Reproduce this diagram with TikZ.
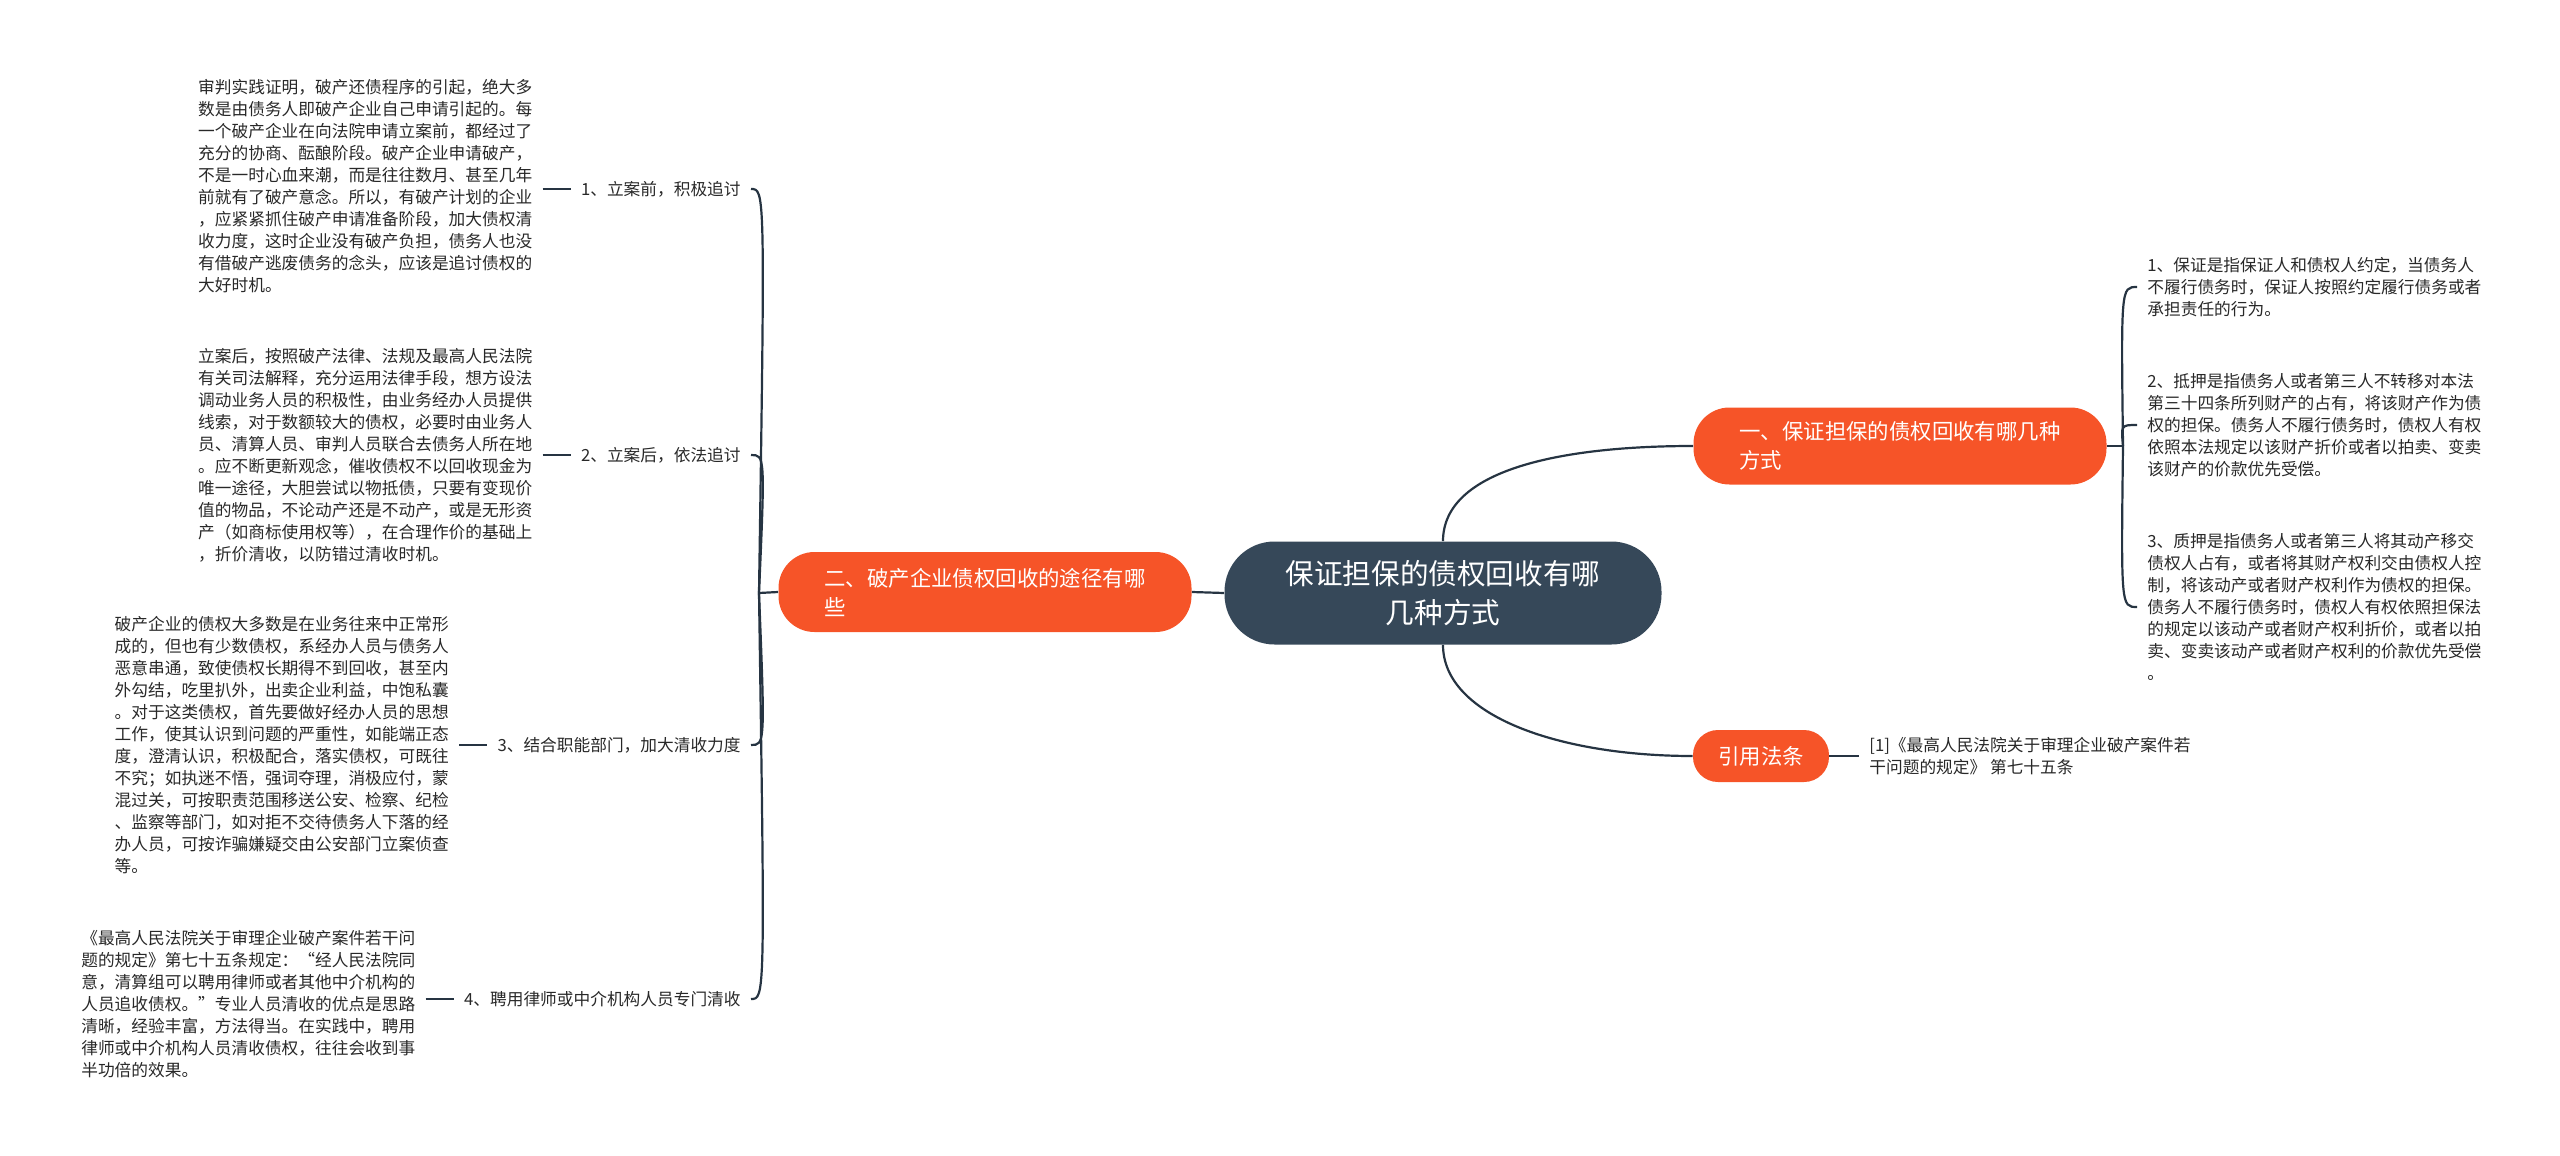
\documentclass[tikz,border=0pt]{standalone}
\usepackage{fontspec}
\setmainfont{Noto Sans CJK SC}
\usepackage{xcolor}
\usetikzlibrary{positioning}
\definecolor{arancio}{RGB}{246,84,40}
\definecolor{ardesia}{RGB}{54,72,89}
\definecolor{linee}{RGB}{38,52,66}
\definecolor{testi}{RGB}{40,40,40}
\def\piccolo{\fontsize{8.35}{11}\selectfont}
\def\medio{\fontsize{10.7}{14.5}\selectfont}
\def\grande{\fontsize{14.3}{19.5}\selectfont}

\begin{document}
\begin{tikzpicture}[x=0.5pt, y=-0.5pt,
    radice/.style = {fill=ardesia, text=white, rounded corners=25pt, minimum width=218.5pt, minimum height=51.5pt, align=center, font=\grande},
    ramo/.style = {fill=arancio, text=white, rounded corners=18pt, minimum height=38.5pt, align=left, font=\medio},
    etichetta/.style = {text=testi, inner xsep=5pt, inner ysep=1pt, font=\piccolo},
    testo/.style = {text=testi, inner xsep=5pt, inner ysep=1pt, align=left, font=\piccolo},
    linea/.style = {draw=linee, line width=1.1pt}]
    % Margini della pagina
    \useasboundingbox (0,0) rectangle (2560,1156);
    % Radice
    \node[radice] (centro) at (1443,593) {保证担保的债权回收有哪\\几种方式};
    % Rami principali
    \node[ramo, minimum width=206.5pt] (garanzia) at (1900,446) {一、保证担保的债权回收有哪几种\\方式};
    \node[ramo, minimum width=206.5pt, minimum height=40pt] (vie) at (985,592) {二、破产企业债权回收的途径有哪\\些};
    \node[ramo, minimum width=68pt, minimum height=26pt, rounded corners=12.5pt] (legge) at (1761,756) {引用法条};
    \draw[linea] (centro.north) .. controls (1443,470) and (1560,446) .. (garanzia.west);
    \draw[linea] (centro.south) .. controls (1443,716) and (1560,756) .. (legge.west);
    \draw[linea] (centro.west) -- (vie.east);
    % Vie di recupero (sinistra)
    \coordinate (snodoSx) at (759,593);
    \node[etichetta, anchor=east] (etic1) at (751,189) {1、立案前，积极追讨};
    \node[etichetta, anchor=east] (etic2) at (751,455) {2、立案后，依法追讨};
    \node[etichetta, anchor=east] (etic3) at (751,745) {3、结合职能部门，加大清收力度};
    \node[etichetta, anchor=east] (etic4) at (751,999) {4、聘用律师或中介机构人员专门清收};
    \node[testo, left=14pt of etic1, yshift=1.5pt] (testo1) {审判实践证明，破产还债程序的引起，绝大多\\数是由债务人即破产企业自己申请引起的。每\\一个破产企业在向法院申请立案前，都经过了\\充分的协商、酝酿阶段。破产企业申请破产，\\不是一时心血来潮，而是往往数月、甚至几年\\前就有了破产意念。所以，有破产计划的企业\\，应紧紧抓住破产申请准备阶段，加大债权清\\收力度，这时企业没有破产负担，债务人也没\\有借破产逃废债务的念头，应该是追讨债权的\\大好时机。};
    \node[testo, left=14pt of etic2] (testo2) {立案后，按照破产法律、法规及最高人民法院\\有关司法解释，充分运用法律手段，想方设法\\调动业务人员的积极性，由业务经办人员提供\\线索，对于数额较大的债权，必要时由业务人\\员、清算人员、审判人员联合去债务人所在地\\。应不断更新观念，催收债权不以回收现金为\\唯一途径，大胆尝试以物抵债，只要有变现价\\值的物品，不论动产还是不动产，或是无形资\\产（如商标使用权等），在合理作价的基础上\\，折价清收，以防错过清收时机。};
    \node[testo, left=14pt of etic3] (testo3) {破产企业的债权大多数是在业务往来中正常形\\成的，但也有少数债权，系经办人员与债务人\\恶意串通，致使债权长期得不到回收，甚至内\\外勾结，吃里扒外，出卖企业利益，中饱私囊\\。对于这类债权，首先要做好经办人员的思想\\工作，使其认识到问题的严重性，如能端正态\\度，澄清认识，积极配合，落实债权，可既往\\不究；如执迷不悟，强词夺理，消极应付，蒙\\混过关，可按职责范围移送公安、检察、纪检\\、监察等部门，如对拒不交待债务人下落的经\\办人员，可按诈骗嫌疑交由公安部门立案侦查\\等。};
    \node[testo, left=14pt of etic4, yshift=-2.5pt] (testo4) {《最高人民法院关于审理企业破产案件若干问\\题的规定》第七十五条规定：“经人民法院同\\意，清算组可以聘用律师或者其他中介机构的\\人员追收债权。”专业人员清收的优点是思路\\清晰，经验丰富，方法得当。在实践中，聘用\\律师或中介机构人员清收债权，往往会收到事\\半功倍的效果。};
    \draw[linea] (vie.west) -- (snodoSx);
    \foreach \n/\y in {1/189, 2/455, 3/745, 4/999} {
        \draw[linea] (snodoSx) .. controls (765,\y) .. (etic\n.east);
        \draw[linea] (testo\n.east |- etic\n.west) -- (etic\n.west);
    }
    % Forme di garanzia (destra)
    \coordinate (snodoDx) at (2123,446);
    \node[testo, anchor=west] (forma1) at (2137,287) {1、保证是指保证人和债权人约定，当债务人\\不履行债务时，保证人按照约定履行债务或者\\承担责任的行为。};
    \node[testo, anchor=west] (forma2) at (2137,425) {2、抵押是指债务人或者第三人不转移对本法\\第三十四条所列财产的占有，将该财产作为债\\权的担保。债务人不履行债务时，债权人有权\\依照本法规定以该财产折价或者以拍卖、变卖\\该财产的价款优先受偿。};
    \node[testo, anchor=west] (forma3) at (2137,607) {3、质押是指债务人或者第三人将其动产移交\\债权人占有，或者将其财产权利交由债权人控\\制，将该动产或者财产权利作为债权的担保。\\债务人不履行债务时，债权人有权依照担保法\\的规定以该动产或者财产权利折价，或者以拍\\卖、变卖该动产或者财产权利的价款优先受偿\\。};
    \draw[linea] (garanzia.east) -- (snodoDx);
    \foreach \n/\y in {1/287, 2/425, 3/607} {
        \draw[linea] (snodoDx) .. controls (2121,\y) .. (forma\n.west);
    }
    % Citazione
    \node[testo, anchor=west] (citazione) at (1859,756) {[1]《最高人民法院关于审理企业破产案件若\\干问题的规定》 第七十五条};
    \draw[linea] (legge.east) -- (citazione.west);
\end{tikzpicture}
\end{document}
